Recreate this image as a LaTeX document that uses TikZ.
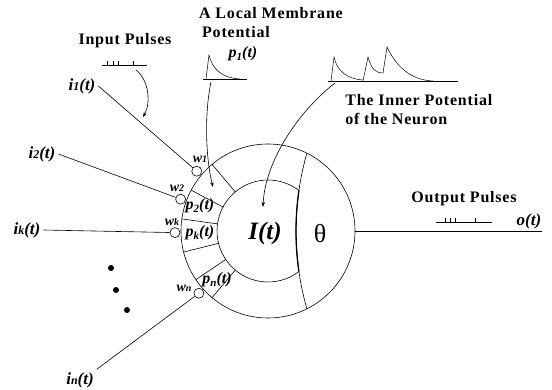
\documentclass[tikz,border=0pt]{standalone}
\usepackage{fontspec}
\setmainfont{Liberation Serif}
\newfontfamily\titlefont[LetterSpace=5]{Liberation Serif}
\usetikzlibrary{arrows.meta, calc}

\newcommand{\insig}[1]{i{\fontsize{12}{12}\selectfont #1}(t)}
\newcommand{\wgt}[1]{w{\fontsize{10}{10}\selectfont #1}}
\newcommand{\pot}[1]{p\raisebox{-2.5pt}{\fontsize{11}{11}\selectfont #1}(t)}

\begin{document}
\begin{tikzpicture}[
    x=1pt, y=-1pt,
    >={Stealth[length=5pt, width=3.5pt]},
    every path/.style={line width=0.6pt},
    title/.style={font=\titlefont\fontsize{16}{19}\selectfont\bfseries, inner sep=0pt},
    sig/.style={font=\fontsize{17}{17}\selectfont\bfseries\itshape, inner sep=0pt, outer sep=3pt},
    wlbl/.style={font=\fontsize{14}{14}\selectfont\bfseries\itshape, inner sep=0pt},
    plbl/.style={font=\fontsize{16}{16}\selectfont\bfseries\itshape, inner sep=0pt},
    weight/.style={circle, draw, fill=white, minimum size=10pt, inner sep=0pt},
    pointer/.style={->},
    pulse/.style={line width=0.5pt},
]
\useasboundingbox (0,0) rectangle (552,390);

% Neuron body
\node[circle, draw, minimum size=174pt, inner sep=0pt] (soma) at (268,231) {};
\coordinate (thc) at (580,231);
\draw ([shift={(164.1:284)}]thc) arc[start angle=164.1, end angle=195.9, radius=284];
\draw[line width=1.3pt] ([shift={(171.8:284)}]thc) arc[start angle=171.8, end angle=188.2, radius=284];
\draw ([shift={(52.7:51)}]soma.center) arc[start angle=52.7, end angle=307.3, radius=51];
% Synapse segments
\foreach \a in {130,152,172,194,214,230}
    \draw ([shift={(-\a:51)}]soma.center) -- ([shift={(-\a:87)}]soma.center);

\node[font=\fontsize{25}{25}\selectfont\bfseries\itshape] (inner) at (265,233) {I(t)};
\node[font=\fontsize{26}{26}\selectfont] (theta) at (320,234) {θ};

% Weights
\node[weight] (w1) at ([shift={(-140:93)}]soma.center) {};
\node[weight] (w2) at ([shift={(-160:93)}]soma.center) {};
\node[weight] (wk) at ([shift={(-181:93)}]soma.center) {};
\node[weight] (wn) at ([shift={(-222:93)}]soma.center) {};
\node[wlbl] at (200,159) {\wgt{1}};
\node[wlbl] at (177,188) {\wgt{2}};
\node[wlbl] at (172,222) {\wgt{k}};
\node[wlbl] at (184,288) {\wgt{n}};

% Local potentials
\node[plbl] (p2) at (200,206) {\pot{2}};
\node[plbl] (pk) at (200,233) {\pot{k}};
\node[plbl] (pn) at (217,280) {\pot{n}};

% Inputs
\node[sig] (i1) at (82,86) {\insig{1}};
\node[sig] (i2) at (42,154) {\insig{2}};
\node[sig] (ik) at (27,230) {\insig{k}};
\node[sig] (in) at (80,380) {\insig{n}};
\draw (i1.east) -- (w1);
\draw (i2.east) -- (w2);
\draw (ik.east) -- (wk);
\draw (in.north east) -- (wn);
\foreach \p in {(111,268),(116,290),(127,310)}
    \fill \p circle[radius=3];

% Output
\coordinate (oend) at (542,231);
\draw (soma.east) -- (oend);
\node[sig] (ot) at (529,221) {o(t)};
\node[title] (outp) at (464,199) {Output Pulses};
\draw[pulse] (436,222) -- (492,222);
\foreach \x in {445,450,455,475}
    \draw[pulse] (\x,222) -- (\x,218);

% Input pulses
\node[title] (inp) at (125,41) {Input Pulses};
\draw[pulse] (102,65) -- (147,65);
\foreach \x in {107,113,118,133}
    \draw[pulse] (\x,65) -- (\x,61);
\coordinate (inpulse) at (136,70);
\coordinate (inhit) at (143,117);
\draw[pointer] (inpulse) .. controls (149,80) and (151,103) .. (inhit);

% Local membrane potential
\node[title] (lmp1) at (271,13) {A Local Membrane};
\node[title] (lmp2) at (236,32) {Potential};
\node[plbl] (p1) at (243,54) {\pot{1}};
\draw[pulse] (203,79) -- (247,79);
\draw[pulse] (206,79) -- (209,55) .. controls (212,68) and (221,78) .. (240,79);
\coordinate (lpstart) at (211,82);
\coordinate (lphit) at (213,187);
\draw[pointer] (lpstart) .. controls (204,115) and (206,160) .. (lphit);

% Inner potential
\node[title, align=left, anchor=west] (ipot) at (345,110) {The Inner Potential\\of the Neuron};
\draw[pulse] (328,81) -- (458,81);
\draw[pulse] (331,81) -- (334,57) .. controls (337,71) and (347,79) .. (363,80);
\draw[pulse] (363,81) -- (368,57) .. controls (371,68) and (375,73) .. (383,73)
    -- (387,47) .. controls (396,66) and (410,80) .. (433,81);
\coordinate (ipstart) at (335,83);
\coordinate (iphit) at (263,207);
\draw[pointer] (ipstart) .. controls (300,110) and (265,160) .. (iphit);
\end{tikzpicture}
\end{document}
